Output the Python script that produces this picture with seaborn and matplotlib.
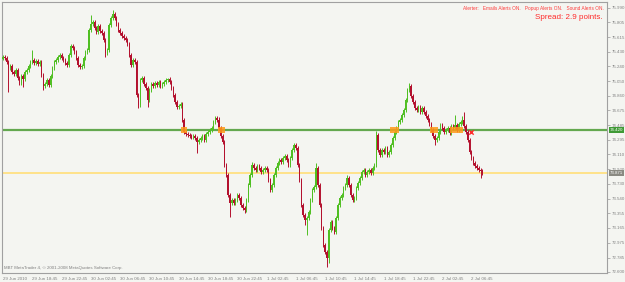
import matplotlib
matplotlib.use("Agg")
import matplotlib.pyplot as plt
import matplotlib.transforms as mtransforms
import seaborn as sns
import pandas as pd

# M15 bars, opens follow the previous close
first_open = 75.34
closes = [
    75.360, 75.347, 75.296, 75.219, 75.244, 75.167, 75.142, 75.193, 75.090, 75.026,
    75.116, 75.078, 75.167, 75.193, 75.244, 75.296, 75.321, 75.283, 75.309, 75.270,
    75.296, 75.129, 74.988, 75.013, 75.065, 75.000, 75.116, 75.219, 75.296, 75.321,
    75.360, 75.386, 75.347, 75.321, 75.283, 75.257, 75.386, 75.501, 75.476, 75.424,
    75.347, 75.257, 75.232, 75.244, 75.347, 75.424, 75.450, 75.707, 75.784, 75.809,
    75.732, 75.681, 75.758, 75.694, 75.668, 75.578, 75.411, 75.450, 75.771, 75.861,
    75.912, 75.861, 75.784, 75.707, 75.668, 75.630, 75.604, 75.578, 75.527, 75.386,
    75.257, 75.321, 75.296, 74.872, 74.744, 75.065, 75.090, 75.013, 74.962, 74.808,
    74.936, 75.013, 74.988, 75.026, 75.000, 75.039, 74.988, 75.013, 75.039, 75.065,
    75.078, 75.039, 74.962, 74.872, 74.782, 74.718, 74.731, 74.757, 74.551, 74.397,
    74.372, 74.359, 74.346, 74.333, 74.346, 74.320, 74.269, 74.295, 74.320, 74.346,
    74.295, 74.372, 74.397, 74.423, 74.449, 74.526, 74.577, 74.551, 74.449, 74.346,
    74.269, 73.974, 73.845, 73.589, 73.486, 73.524, 73.486, 73.524, 73.589, 73.550,
    73.460, 73.422, 73.396, 73.524, 73.717, 73.845, 73.974, 73.935, 73.909, 73.961,
    73.935, 73.884, 73.909, 73.935, 73.909, 73.781, 73.653, 73.717, 73.845, 73.935,
    73.999, 74.038, 74.012, 74.063, 74.089, 74.038, 73.974, 74.063, 74.166, 74.230,
    74.192, 73.974, 73.781, 73.460, 73.332, 73.268, 73.293, 73.370, 73.524, 73.653,
    73.691, 73.935, 73.717, 73.460, 73.165, 72.947, 72.857, 72.780, 73.139, 73.242,
    73.165, 73.114, 73.293, 73.460, 73.550, 73.589, 73.678, 73.717, 73.807, 73.717,
    73.589, 73.524, 73.550, 73.678, 73.743, 73.807, 73.884, 73.909, 73.845, 73.884,
    73.909, 73.871, 73.935, 73.974, 74.359, 74.166, 74.102, 74.166, 74.141, 74.192,
    74.102, 74.141, 74.230, 74.320, 74.397, 74.449, 74.526, 74.551, 74.615, 74.680,
    74.808, 74.936, 74.988, 74.859, 74.782, 74.705, 74.680, 74.718, 74.654, 74.705,
    74.654, 74.603, 74.551, 74.500, 74.423, 74.346, 74.295, 74.320, 74.397, 74.487,
    74.449, 74.397, 74.423, 74.449, 74.384, 74.474, 74.449, 74.487, 74.423, 74.500,
    74.526, 74.551, 74.474, 74.397, 74.295, 74.141, 74.063, 73.999, 73.961, 73.935,
    73.909, 73.897, 73.871,
]

# wicks that stand out in the picture (bar -> price)
high_marks = {16: 75.45, 48: 75.90, 60: 75.96, 90: 75.09, 116: 74.60, 118: 74.59,
              136: 74.01, 159: 74.26, 171: 74.00, 188: 73.85, 204: 74.41,
              222: 75.03, 247: 74.62, 251: 74.60, 252: 74.65}
low_marks = {3: 74.91, 11: 74.975, 22: 74.94, 56: 75.36, 74: 74.705, 79: 74.72,
             106: 74.127, 124: 73.306, 132: 73.357, 165: 73.20, 166: 73.075,
             177: 72.66, 178: 72.71, 236: 74.23, 261: 73.81}

time_labels = ["29 Jun 2010", "29 Jun 18:45", "29 Jun 22:45", "30 Jun 02:45",
               "30 Jun 06:45", "30 Jun 10:45", "30 Jun 14:45", "30 Jun 18:45",
               "30 Jun 22:45", "1 Jul 02:45", "1 Jul 06:45", "1 Jul 10:45",
               "1 Jul 14:45", "1 Jul 18:45", "1 Jul 22:45", "2 Jul 02:45",
               "2 Jul 06:45"]
price_ticks = [75.990, 75.805, 75.615, 75.430, 75.240, 75.050, 74.860, 74.675,
               74.485, 74.295, 74.110, 73.920, 73.730, 73.540, 73.355, 73.165,
               72.975, 72.785, 72.600]

level_line = 74.420
bid_line = 73.871
alert_zones = [(98, 100), (118, 121), (212, 216), (234, 237), (245, 251)]
cancel_mark = (256, 74.40)

# build OHLC table
opens = [first_open] + closes[:-1]
df = pd.DataFrame({"open": opens, "close": closes})
df["bar"] = range(len(df))
df["top"] = df[["open", "close"]].max(axis=1)
df["bot"] = df[["open", "close"]].min(axis=1)
df["high"] = [high_marks.get(i, t + 0.025) for i, t in enumerate(df["top"])]
df["low"] = [low_marks.get(i, b - 0.025) for i, b in enumerate(df["bot"])]
df["up"] = df["close"] >= df["open"]

sns.set_style("white")
plt.rcParams["font.family"] = ["Liberation Sans", "DejaVu Sans"]

fig = plt.figure(figsize=(6.25, 2.82), dpi=100)
fig.patch.set_facecolor("#f4f5f1")
ax = fig.add_axes([2 / 625, 9 / 282, 605 / 625, 271 / 282])
ax.set_facecolor("#f4f5f1")

green = "#4fbf22"
red = "#b3112e"
colors = [green if u else red for u in df["up"]]

ax.vlines(df["bar"], df["low"], df["high"], colors=colors, linewidth=0.7, zorder=3)
ax.bar(df["bar"], (df["top"] - df["bot"]).clip(lower=0.008), bottom=df["bot"],
       width=0.75, color=colors, linewidth=0, zorder=4)

ax.axhline(level_line, color="#63a84f", linewidth=1.6, zorder=2)
ax.axhline(bid_line, color="#ffe28a", linewidth=1.4, zorder=2)

for a, b in alert_zones:
    ax.add_patch(plt.Rectangle((a - 0.5, level_line - 0.035), b - a + 1, 0.07,
                               color="#ff9a1a", alpha=0.85, zorder=5, linewidth=0))

sns.scatterplot(x=[cancel_mark[0]], y=[cancel_mark[1]], marker="x", color="#ff2a2a",
                s=10, linewidth=1.0, ax=ax, zorder=6)

ax.set_xlim(-0.55, -0.55 + 605 / 1.83)
ax.set_ylim(72.587, 76.066)

fs = 3.2
ax.yaxis.tick_right()
ax.set_yticks(price_ticks)
ax.set_yticklabels([f"{p:.3f}" for p in price_ticks], fontsize=fs, color="#808080")
ax.set_xticks(range(0, 16 * len(time_labels), 16))
ax.set_xticklabels(time_labels, fontsize=fs, color="#808080", ha="left")
ax.tick_params(axis="both", length=2, width=0.5, color="#999999", pad=1.2)

for s in ax.spines.values():
    s.set_color("#a0a0a0")
    s.set_linewidth(0.8)

# price boxes on the right scale
tr = mtransforms.blended_transform_factory(ax.transAxes, ax.transData)
ax.text(1.004, level_line, f"{level_line:.3f}", transform=tr, fontsize=fs,
        color="white", va="center", ha="left",
        bbox=dict(boxstyle="square,pad=0.2", fc="#3f9a35", ec="none"))
ax.text(1.004, bid_line, f"{bid_line:.3f}", transform=tr, fontsize=fs,
        color="white", va="center", ha="left",
        bbox=dict(boxstyle="square,pad=0.2", fc="#8a8a82", ec="none"))

ax.text(0.995, 0.985, "Alerter:   Emails Alerts ON.   Popup Alerts ON.   Sound Alerts ON.",
        transform=ax.transAxes, fontsize=3.4, color="#ff3a3a", ha="right", va="top")
ax.text(0.993, 0.955, "Spread: 2.9 points.", transform=ax.transAxes, fontsize=5.8,
        color="#ff2a2a", ha="right", va="top")
ax.text(0.003, 0.012, "MBT MetaTrader 4, \u00a9 2001-2008 MetaQuotes Software Corp.",
        transform=ax.transAxes, fontsize=fs, color="#808080", ha="left", va="bottom")

fig.savefig("out.png", dpi=100, facecolor=fig.get_facecolor())
